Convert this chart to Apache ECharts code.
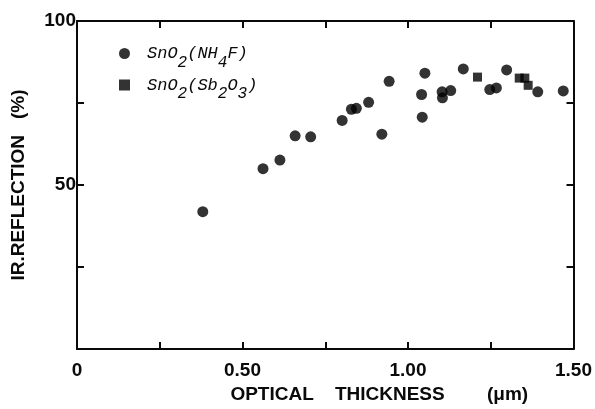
<!DOCTYPE html>
<html>
<head>
<meta charset="utf-8">
<script src="https://cdn.jsdelivr.net/npm/echarts@6/dist/echarts.min.js"></script>
<style>
html,body{margin:0;padding:0;background:#fff;}
#c{width:595px;height:409px;}
</style>
</head>
<body>
<div id="c"></div>
<script>
// Data
var nh4fX = [0.380, 0.562, 0.613, 0.659, 0.706, 0.801, 0.829, 0.844, 0.881, 0.921, 0.943, 1.041, 1.043, 1.051, 1.103, 1.104, 1.129, 1.167, 1.247, 1.267, 1.298, 1.392, 1.469];
var nh4fY = [41.9, 55.0, 57.6, 65.0, 64.7, 69.7, 73.1, 73.4, 75.2, 65.5, 81.6, 77.6, 70.7, 84.1, 78.4, 76.6, 78.8, 85.4, 79.1, 79.6, 85.1, 78.4, 78.7];
var sb2o3X = [1.210, 1.336, 1.353, 1.363];
var sb2o3Y = [82.9, 82.6, 82.6, 80.4];
var xTickLabels = ['0', '', '0.50', '', '1.00', '', '1.50'];
var yTickLabels = ['', '', '50', '', '100'];
var seriesNames = ['SnO2(NH4F)', 'SnO2(Sb2O3)'];
var legendRich = {
  'SnO2(NH4F)': '{f|SnO}{s|2}{n|(NH}{s|4}{n|F)}',
  'SnO2(Sb2O3)': '{f|SnO}{s|2}{n|(Sb}{s|2}{n|O}{s|3}{n|)}'
};
var xTitle = 'OPTICAL    THICKNESS        (\u03bcm)';
var yTitle = 'IR.REFLECTION   (%)';

function zip(a, b) { return a.map(function (v, i) { return [v, b[i]]; }); }

var ink = '#0a0a0a';
var sansFont = 'Liberation Sans, Arial, sans-serif';
var monoFont = 'Liberation Mono, DejaVu Sans Mono, monospace';
function axisStyle() {
  return {
    axisLine: { show: true, onZero: false, lineStyle: { color: ink, width: 2 } },
    axisTick: { show: true, inside: true, length: 7, lineStyle: { color: ink, width: 2 } },
    splitLine: { show: false }
  };
}

var chart = echarts.init(document.getElementById('c'), null, { renderer: 'canvas' });
chart.setOption({
  backgroundColor: '#ffffff',
  animation: false,
  grid: { left: 77, right: 12, top: 21, bottom: 53 },
  legend: {
    show: true,
    left: 114,
    top: 40,
    padding: 5,
    orient: 'vertical',
    itemGap: 6,
    itemWidth: 11,
    itemHeight: 11,
    data: [{ name: seriesNames[0], icon: 'circle' }, { name: seriesNames[1], icon: 'rect' }],
    formatter: function (name) { return legendRich[name]; },
    textStyle: {
      color: ink,
      rich: {
        f: { fontFamily: monoFont, fontStyle: 'italic', fontSize: 17, color: ink, padding: [0, 0, 0, 12] },
        n: { fontFamily: monoFont, fontStyle: 'italic', fontSize: 17, color: ink },
        s: { fontFamily: monoFont, fontStyle: 'italic', fontSize: 16, color: ink, padding: [18, 0, 0, 0] }
      }
    }
  },
  xAxis: [
    Object.assign({
      type: 'value', position: 'bottom', min: 0, max: 1.5, interval: 0.25,
      name: xTitle, nameLocation: 'middle', nameGap: 26,
      nameTextStyle: { fontFamily: sansFont, fontSize: 19, fontWeight: 'bold', color: ink, padding: [0, 0, 0, 108] },
      axisLabel: {
        show: true, margin: 12, fontFamily: sansFont, fontSize: 19, fontWeight: 'bold', color: ink,
        formatter: function (v) { var i = Math.round(v / 0.25); return xTickLabels[i] || ''; }
      }
    }, axisStyle()),
    Object.assign({
      type: 'value', position: 'top', min: 0, max: 1.5, interval: 0.25,
      axisLabel: { show: false }
    }, axisStyle())
  ],
  yAxis: [
    Object.assign({
      type: 'value', position: 'left', min: 0, max: 100, interval: 25,
      name: yTitle, nameLocation: 'middle', nameGap: 49,
      nameTextStyle: { fontFamily: sansFont, fontSize: 19, fontWeight: 'bold', color: ink },
      axisLabel: {
        show: true, margin: 1, fontFamily: sansFont, fontSize: 19, fontWeight: 'bold', color: ink,
        formatter: function (v) { var i = Math.round(v / 25); return yTickLabels[i] || ''; }
      }
    }, axisStyle()),
    Object.assign({
      type: 'value', position: 'right', min: 0, max: 100, interval: 25,
      axisLabel: { show: false }
    }, axisStyle())
  ],
  series: [
    {
      name: seriesNames[0], type: 'scatter', xAxisIndex: 0, yAxisIndex: 0,
      symbol: 'circle', symbolSize: 11,
      itemStyle: { color: '#000' },
      data: zip(nh4fX, nh4fY)
    },
    {
      name: seriesNames[1], type: 'scatter', xAxisIndex: 0, yAxisIndex: 0,
      symbol: 'rect', symbolSize: 9,
      itemStyle: { color: '#000' },
      data: zip(sb2o3X, sb2o3Y)
    }
  ]
});
</script>
</body>
</html>
